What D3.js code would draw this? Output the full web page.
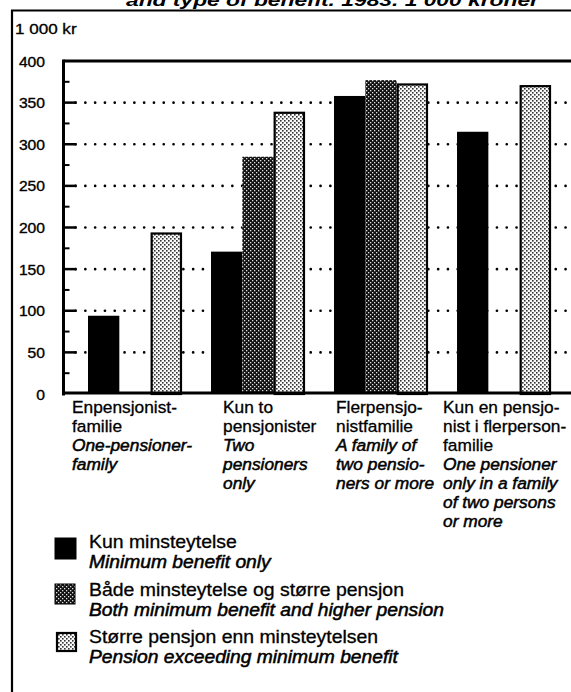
<!DOCTYPE html>
<html><head><meta charset="utf-8">
<script src="https://cdn.jsdelivr.net/npm/d3@7"></script>
<style>
html,body{margin:0;padding:0;background:#fff;}
svg{display:block;}
text{font-family:"Liberation Sans",Arial,Helvetica,sans-serif;fill:#000;}
</style></head>
<body>
<script>
// ---- data ----
const categories = ["Enpensjonistfamilie", "Kun to pensjonister", "Flerpensjonistfamilie", "Kun en pensjonist i flerpersonfamilie"];
const seriesNames = ["Kun minsteytelse", "Både minsteytelse og større pensjon", "Større pensjon enn minsteytelsen"];
const seriesNamesEn = ["Minimum benefit only", "Both minimum benefit and higher pension", "Pension exceeding minimum benefit"];
const minimumOnly = [94, 171, 358, 315];
const bothTypes = [null, 285, 377, null];
const higherPension = [194, 339, 373, 371];
const yTicks = [0, 50, 100, 150, 200, 250, 300, 350, 400];
const yUnit = "1 000 kr";
const titleText = "and type of benefit. 1983. 1 000 kroner";
const catLinesNo = [["Enpensjonist-", "familie"], ["Kun to", "pensjonister"], ["Flerpensjo-", "nistfamilie"], ["Kun en pensjo-", "nist i flerperson-", "familie"]];
const catLinesEn = [["One-pensioner-", "family"], ["Two", "pensioners", "only"], ["A family of", "two pensio-", "ners or more"], ["One pensioner", "only in a family", "of two persons", "or more"]];

const seriesValues = [minimumOnly, bothTypes, higherPension];

// ---- layout ----
const W = 571, H = 692;
const svg = d3.select("body").append("svg").attr("width", W).attr("height", H);
svg.append("rect").attr("width", W).attr("height", H).attr("fill", "#fff");

const defs = svg.append("defs");
const pd = defs.append("pattern").attr("id", "dark").attr("patternUnits", "userSpaceOnUse").attr("width", 4).attr("height", 4);
pd.append("rect").attr("width", 4).attr("height", 4).attr("fill", "#111");
pd.append("rect").attr("x", 0).attr("y", 0).attr("width", 1.3).attr("height", 1.3).attr("fill", "#e0e0e0");
pd.append("rect").attr("x", 2).attr("y", 2).attr("width", 1.3).attr("height", 1.3).attr("fill", "#e0e0e0");
const pl = defs.append("pattern").attr("id", "light").attr("patternUnits", "userSpaceOnUse").attr("width", 4).attr("height", 4);
pl.append("rect").attr("width", 4).attr("height", 4).attr("fill", "#fafafa");
pl.append("rect").attr("x", 0).attr("y", 0).attr("width", 1.6).attr("height", 1.6).attr("fill", "#333");
pl.append("rect").attr("x", 2).attr("y", 2).attr("width", 1.6).attr("height", 1.6).attr("fill", "#333");

const fills = ["#000", "url(#dark)", "url(#light)"];

const y = d3.scaleLinear().domain([0, 400]).range([394, 61]);
const x0 = d3.scaleBand().domain(categories).range([88, 551]).paddingInner(0.236).paddingOuter(0);
const x1 = d3.scaleBand().domain(seriesNames).range([0, x0.bandwidth()]).padding(0);

const plotLeft = 63.5, plotRight = W + 5;

// title (cut off at the top, as in the reference)
svg.append("text").attr("x", 126).attr("y", 6).attr("textLength", 413).attr("lengthAdjust", "spacingAndGlyphs")
  .attr("font-size", 17).attr("font-weight", "bold").attr("font-style", "italic").text(titleText);

// outer border
svg.append("line").attr("x1", 12).attr("x2", 12).attr("y1", 10).attr("y2", H).attr("stroke", "#000").attr("stroke-width", 2.2);
svg.append("line").attr("x1", 11).attr("x2", W).attr("y1", 10.5).attr("y2", 10.5).attr("stroke", "#000").attr("stroke-width", 1.8);

function stext(g, str, x, yy, opts) {
  opts = opts || {};
  return g.append("text").attr("transform", `translate(${x},${yy}) scale(${opts.sx || 1.1},1)`)
    .attr("font-size", opts.size || 16)
    .attr("font-style", opts.italic ? "italic" : "normal")
    .attr("font-weight", opts.bold ? "bold" : "normal")
    .attr("text-anchor", opts.anchor || "start")
    .attr("stroke", "#000").attr("stroke-width", opts.sw == null ? 0.35 : opts.sw)
    .text(str);
}

// unit label
stext(svg, yUnit, 15, 34, {size: 15.5, sx: 1.1});

// y tick labels
yTicks.forEach(v => stext(svg, String(v), 45, y(v) + 5.5, {size: 14.5, sx: 1.08, anchor: "end"}));

// gridlines and ticks
const grid = svg.append("g");
yTicks.filter(v => v > 0 && v < 400).forEach(v => {
  grid.append("line").attr("x1", plotLeft + 12).attr("x2", plotRight).attr("y1", y(v)).attr("y2", y(v))
    .attr("stroke", "#000").attr("stroke-width", 2.6).attr("stroke-linecap", "round")
    .attr("stroke-dasharray", "0.1,9.7");
  grid.append("line").attr("x1", plotLeft).attr("x2", plotLeft + 13).attr("y1", y(v)).attr("y2", y(v))
    .attr("stroke", "#000").attr("stroke-width", 2.5);
});
d3.range(25, 400, 50).forEach(v => {
  grid.append("line").attr("x1", plotLeft).attr("x2", plotLeft + 6).attr("y1", y(v)).attr("y2", y(v))
    .attr("stroke", "#000").attr("stroke-width", 2);
});

// bars
const gBars = svg.append("g");
categories.forEach((c, ci) => {
  seriesNames.forEach((s, si) => {
    const v = seriesValues[si][ci];
    if (v == null) return;
    const bx = x0(c) + x1(s), bw = x1.bandwidth();
    const r = gBars.append("rect").attr("x", bx).attr("y", y(v)).attr("width", bw).attr("height", y(0) - y(v))
      .attr("fill", fills[si]);
    if (si === 2) r.attr("x", bx + 1).attr("y", y(v) + 1).attr("width", bw - 2).attr("height", y(0) - y(v) - 1)
      .attr("stroke", "#000").attr("stroke-width", 2.2);
  });
});

// plot frame
svg.append("line").attr("x1", plotLeft).attr("x2", plotLeft).attr("y1", y(400) - 1.5).attr("y2", y(0) + 1.5).attr("stroke", "#000").attr("stroke-width", 3);
svg.append("line").attr("x1", plotLeft).attr("x2", plotRight).attr("y1", y(400)).attr("y2", y(400)).attr("stroke", "#000").attr("stroke-width", 3);
svg.append("line").attr("x1", plotLeft).attr("x2", plotRight).attr("y1", y(0) - 1).attr("y2", y(0) - 1).attr("stroke", "#000").attr("stroke-width", 3);

// category labels
const labelOffset = [-16, 12, 2, -14];
const lineH = 19, firstBase = 413;
categories.forEach((c, ci) => {
  const lx = x0(c) + labelOffset[ci];
  let k = 0;
  catLinesNo[ci].forEach(l => { stext(svg, l, lx, firstBase + lineH * k, {size: 16.5, sx: 1.05, sw: 0.3}); k++; });
  catLinesEn[ci].forEach(l => { stext(svg, l, lx, firstBase + lineH * k, {size: 16.5, sx: 1.05, italic: true, sw: 0.5}); k++; });
});

// legend
const legSw = [[55, 538, 21, 21], [55, 584, 20, 20], [57, 633, 19, 18]];
const legBase = [[548, 568], [596, 616], [643, 663]];
seriesNames.forEach((s, si) => {
  const [sx, sy, sw, sh] = legSw[si];
  svg.append("rect").attr("x", sx).attr("y", sy).attr("width", sw).attr("height", sh)
    .attr("fill", fills[si]).attr("stroke", "#000").attr("stroke-width", si === 2 ? 2.2 : 1);
  stext(svg, s, 89, legBase[si][0], {size: 17.5, sx: 1.11, sw: 0.3});
  stext(svg, seriesNamesEn[si], 89, legBase[si][1], {size: 17.5, sx: 1.1, italic: true, sw: 0.5});
});
</script>
</body></html>
